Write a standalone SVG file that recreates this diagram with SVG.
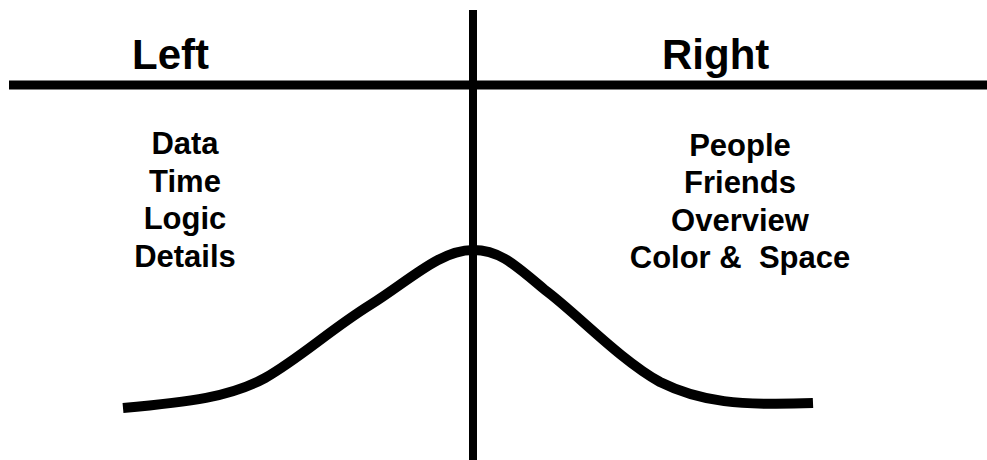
<svg xmlns="http://www.w3.org/2000/svg" width="987" height="460" viewBox="0 0 987 460">
<style>
.ax{stroke:#000;fill:none}
.hd{font-family:"Liberation Sans",Arial,sans-serif;font-weight:bold;font-size:42px;fill:#000}
.it{font-family:"Liberation Sans",Arial,sans-serif;font-weight:bold;font-size:31px;fill:#000;text-anchor:middle;white-space:pre}
</style>
<rect width="987" height="460" fill="#fff"/>
<g id="connectors">
<line class="ax" x1="9" y1="85" x2="987" y2="85" stroke-width="9"/>
<line class="ax" x1="473" y1="10" x2="473" y2="460" stroke-width="8"/>
<path class="ax" stroke-width="10" d="M123,408 C190,402 230,397 265,378 C300,358 330,330 370,305 C410,280 440,250 473,250 C500,250 515,265 545,290 C575,312 620,360 660,382 C700,402 740,406 813,403"/>
</g>
<g id="left-header"><text class="hd" x="132" y="69">Left</text></g>
<g id="right-header"><text class="hd" x="662" y="69">Right</text></g>
<g id="left-list">
<text class="it" x="185" y="154">Data</text>
<text class="it" x="185" y="192">Time</text>
<text class="it" x="185" y="229">Logic</text>
<text class="it" x="185" y="267">Details</text>
</g>
<g id="right-list">
<text class="it" x="740" y="156">People</text>
<text class="it" x="740" y="193">Friends</text>
<text class="it" x="740" y="231">Overview</text>
<text class="it" x="740" y="268" xml:space="preserve">Color &amp;  Space</text>
</g>
</svg>
